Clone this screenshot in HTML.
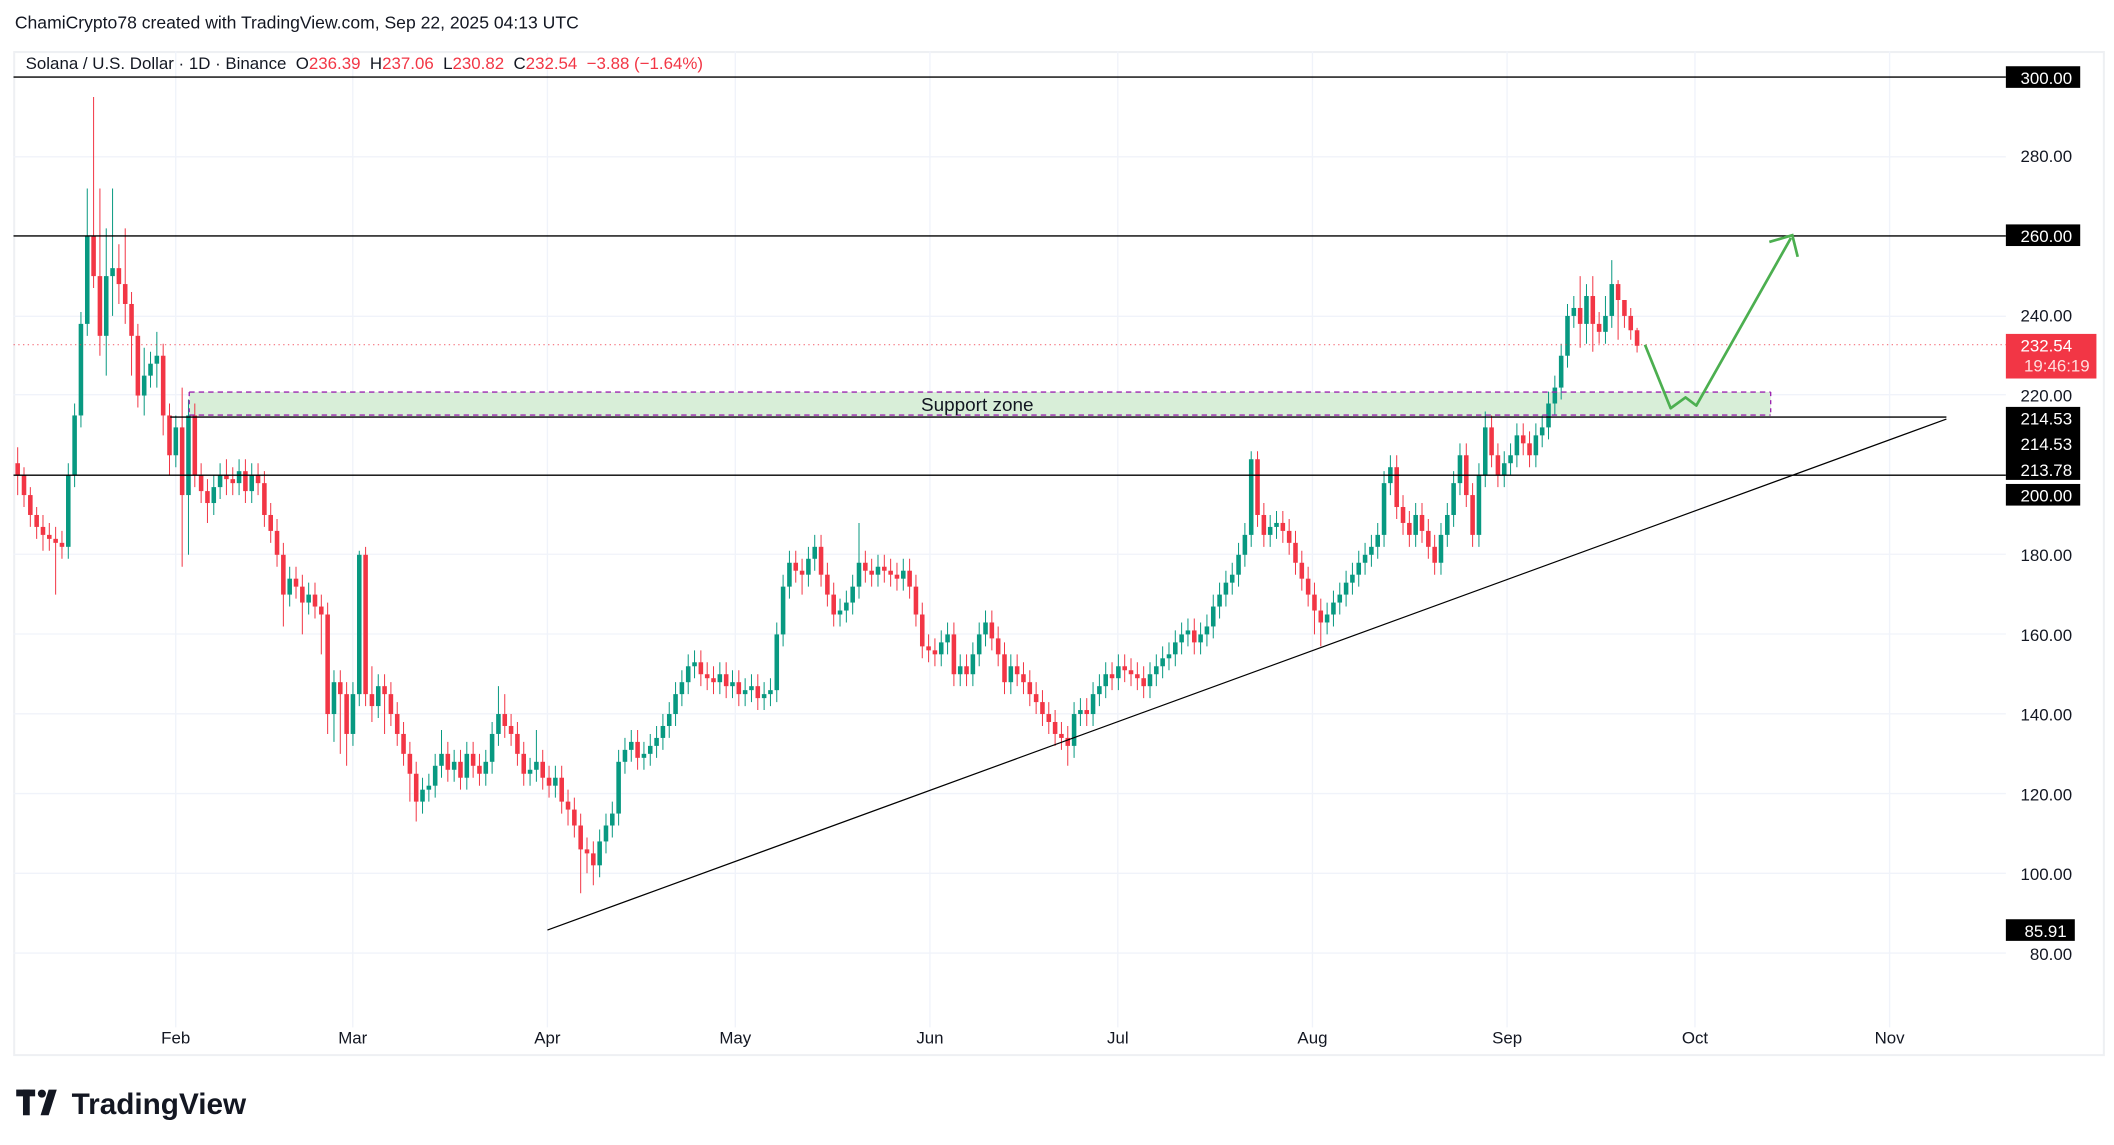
<!DOCTYPE html>
<html><head><meta charset="utf-8"><style>
html,body{margin:0;padding:0;background:#fff;width:2114px;height:1145px;overflow:hidden}
svg{display:block}
text{font-family:"Liberation Sans",sans-serif;white-space:pre}
</style></head><body>
<svg width="2114" height="1145" viewBox="0 0 1564 847" preserveAspectRatio="none" xmlns="http://www.w3.org/2000/svg">
<rect x="0" y="0" width="1564" height="847" fill="#fff"/>
<text x="11" y="21" font-size="13" fill="#131722">ChamiCrypto78 created with TradingView.com, Sep 22, 2025 04:13 UTC</text>
<rect x="10.5" y="38.5" width="1546" height="742" fill="none" stroke="#eef0f3" stroke-width="1.5"/>
<g stroke="#f0f3fa" stroke-width="1">
<line x1="130" y1="38" x2="130" y2="760"/><line x1="261" y1="38" x2="261" y2="760"/><line x1="405" y1="38" x2="405" y2="760"/><line x1="544" y1="38" x2="544" y2="760"/><line x1="688" y1="38" x2="688" y2="760"/><line x1="827" y1="38" x2="827" y2="760"/><line x1="971" y1="38" x2="971" y2="760"/><line x1="1115" y1="38" x2="1115" y2="760"/><line x1="1254" y1="38" x2="1254" y2="760"/><line x1="1398" y1="38" x2="1398" y2="760"/>
<line x1="10" y1="116" x2="1484" y2="116"/><line x1="10" y1="234" x2="1484" y2="234"/><line x1="10" y1="292" x2="1484" y2="292"/><line x1="10" y1="410" x2="1484" y2="410"/><line x1="10" y1="469" x2="1484" y2="469"/><line x1="10" y1="528" x2="1484" y2="528"/><line x1="10" y1="587" x2="1484" y2="587"/><line x1="10" y1="646" x2="1484" y2="646"/><line x1="10" y1="705" x2="1484" y2="705"/>
</g>
<!-- support zone -->
<rect x="140" y="290" width="1170" height="18" fill="#d8eed8"/>
<g transform="matrix(4.68 0 0 -2.945 -15 940.5)">
<path fill="none" stroke="#089981" stroke-width="1" vector-effect="non-scaling-stroke" d="M14 179V203M15 197V218M16 212V241M17 235V272M20 225V262M21 240V272M26 215V232M27 222V231M28 222V236M31 202V215M33 180V219M37 190V200M38 194V203M41 195V204M43 193V203M49 167V177M52 165V173M56 133V151M59 132V148M60 142V181M63 139V150M70 115V124M71 118V125M72 119V130M73 124V136M75 123V131M77 121V133M80 122V131M81 125V138M82 132V147M87 122V129M88 123V136M91 119V127M98 99V111M99 105V115M100 109V118M101 112V131M102 125V134M103 128V136M105 126V133M106 127V135M107 129V137M108 131V140M109 134V143M110 137V148M111 142V151M112 145V155M113 149V156M117 145V153M119 144V151M121 142V149M122 143V150M124 141V148M125 142V149M126 143V163M127 157V175M128 169V181M131 172V182M132 176V185M136 162V169M137 163V171M138 165V175M139 169V188M142 172V180M146 171V179M152 152V161M153 155V163M155 147V155M157 147V158M158 152V163M159 157V166M163 145V155M173 129V143M174 137V144M176 137V148M177 142V150M178 144V153M180 146V155M185 144V153M186 147V155M187 149V157M188 151V158M189 152V161M190 155V163M191 157V164M193 155V163M194 157V165M195 159V170M196 164V173M197 167V176M198 170V178M199 172V183M200 177V188M201 182V206M204 182V190M205 184V191M213 160V168M214 162V171M215 165V173M216 167V176M217 170V178M218 172V181M219 175V183M220 177V185M221 179V188M222 182V201M223 195V205M227 182V193M231 175V188M232 182V193M233 187V201M234 195V208M237 182V203M238 197V216M241 197V206M242 200V208M243 202V213M246 202V213M247 207V215M248 209V221M249 215V225M250 219V233M251 227V243M252 237V245M254 233V248M257 233V245M258 237V254"/>
<path fill="none" stroke="#f23645" stroke-width="1" vector-effect="non-scaling-stroke" d="M6 195V207M7 192V202M8 187V197M9 184V192M10 181V190M11 181V188M12 170V187M13 179V186M18 247V295M19 230V272M22 243V258M23 238V262M24 225V246M25 217V238M29 210V233M30 200V218M32 177V222M34 197V218M35 193V203M36 188V199M39 195V204M40 195V202M42 193V204M44 195V203M45 187V201M46 183V193M47 177V189M48 162V183M50 169V177M51 160V175M53 164V173M54 155V170M55 135V168M57 130V151M58 127V148M61 142V182M62 138V152M64 135V150M65 137V148M66 132V143M67 127V138M68 118V133M69 113V128M74 123V133M76 121V131M78 124V133M79 122V130M83 134V145M84 132V140M85 127V138M86 122V133M89 121V131M90 119V127M92 115V127M93 112V121M94 109V119M95 95V115M96 100V109M97 97V108M104 126V136M114 147V156M115 146V153M116 145V152M118 144V153M120 142V151M123 141V150M129 173V181M130 170V179M133 172V185M134 167V178M135 162V173M140 173V181M141 172V179M143 173V180M144 172V179M145 171V178M147 169V179M148 162V175M149 154V168M150 153V160M151 152V159M154 147V163M156 147V155M160 156V166M161 152V162M162 145V158M164 147V155M165 145V153M166 142V151M167 140V148M168 137V146M169 135V143M170 132V141M171 131V138M172 127V137M175 137V144M179 146V153M181 148V155M182 147V154M183 146V153M184 144V152M192 155V164M202 187V206M203 182V193M206 183V191M207 180V189M208 175V186M209 171V181M210 167V177M211 160V173M212 157V169M224 189V205M225 185V195M226 182V191M228 183V193M229 179V189M230 175V185M235 192V208M236 182V198M239 202V215M240 197V208M244 205V213M245 202V211M253 232V250M255 231V250M256 233V241M259 234V249M260 237V244M261 234V242M262 230.8V237"/>
<g fill="#089981">
<rect x="13.64" y="182" width=".72" height="18"/><rect x="14.64" y="200" width=".72" height="15"/><rect x="15.64" y="215" width=".72" height="23"/><rect x="16.64" y="238" width=".72" height="22"/><rect x="19.64" y="235" width=".72" height="15"/><rect x="20.64" y="250" width=".72" height="2"/><rect x="25.64" y="220" width=".72" height="5"/><rect x="26.64" y="225" width=".72" height="3"/><rect x="27.64" y="228" width=".72" height="2"/><rect x="30.64" y="205" width=".72" height="7"/><rect x="32.64" y="195" width=".72" height="20"/><rect x="36.64" y="193" width=".72" height="4"/><rect x="37.64" y="197" width=".72" height="3"/><rect x="40.64" y="198" width=".72" height="3"/><rect x="42.64" y="196" width=".72" height="4"/><rect x="48.64" y="170" width=".72" height="4"/><rect x="51.64" y="168" width=".72" height="2"/><rect x="55.64" y="140" width=".72" height="8"/><rect x="58.64" y="135" width=".72" height="10"/><rect x="59.64" y="145" width=".72" height="35"/><rect x="62.64" y="142" width=".72" height="5"/><rect x="69.64" y="118" width=".72" height="3"/><rect x="70.64" y="121" width=".72" height="1"/><rect x="71.64" y="122" width=".72" height="5"/><rect x="72.64" y="127" width=".72" height="3"/><rect x="74.64" y="126" width=".72" height="2"/><rect x="76.64" y="124" width=".72" height="6"/><rect x="79.64" y="125" width=".72" height="3"/><rect x="80.64" y="128" width=".72" height="7"/><rect x="81.64" y="135" width=".72" height="5"/><rect x="86.64" y="125" width=".72" height="1"/><rect x="87.64" y="126" width=".72" height="2"/><rect x="90.64" y="122" width=".72" height="2"/><rect x="97.64" y="102" width=".72" height="6"/><rect x="98.64" y="108" width=".72" height="4"/><rect x="99.64" y="112" width=".72" height="3"/><rect x="100.64" y="115" width=".72" height="13"/><rect x="101.64" y="128" width=".72" height="3"/><rect x="102.64" y="131" width=".72" height="2"/><rect x="104.64" y="129" width=".72" height="1"/><rect x="105.64" y="130" width=".72" height="2"/><rect x="106.64" y="132" width=".72" height="2"/><rect x="107.64" y="134" width=".72" height="3"/><rect x="108.64" y="137" width=".72" height="3"/><rect x="109.64" y="140" width=".72" height="5"/><rect x="110.64" y="145" width=".72" height="3"/><rect x="111.64" y="148" width=".72" height="4"/><rect x="112.64" y="152" width=".72" height="1"/><rect x="116.64" y="148" width=".72" height="2"/><rect x="118.64" y="147" width=".72" height="1"/><rect x="120.64" y="145" width=".72" height="1"/><rect x="121.64" y="146" width=".72" height="1"/><rect x="123.64" y="144" width=".72" height="1"/><rect x="124.64" y="145" width=".72" height="1"/><rect x="125.64" y="146" width=".72" height="14"/><rect x="126.64" y="160" width=".72" height="12"/><rect x="127.64" y="172" width=".72" height="6"/><rect x="130.64" y="175" width=".72" height="4"/><rect x="131.64" y="179" width=".72" height="3"/><rect x="135.64" y="165" width=".72" height="1"/><rect x="136.64" y="166" width=".72" height="2"/><rect x="137.64" y="168" width=".72" height="4"/><rect x="138.64" y="172" width=".72" height="6"/><rect x="141.64" y="175" width=".72" height="2"/><rect x="145.64" y="174" width=".72" height="2"/><rect x="151.64" y="155" width=".72" height="3"/><rect x="152.64" y="158" width=".72" height="2"/><rect x="154.64" y="150" width=".72" height="2"/><rect x="156.64" y="150" width=".72" height="5"/><rect x="157.64" y="155" width=".72" height="5"/><rect x="158.64" y="160" width=".72" height="3"/><rect x="162.64" y="148" width=".72" height="4"/><rect x="172.64" y="132" width=".72" height="8"/><rect x="173.64" y="140" width=".72" height="1"/><rect x="175.64" y="140" width=".72" height="5"/><rect x="176.64" y="145" width=".72" height="2"/><rect x="177.64" y="147" width=".72" height="3"/><rect x="179.64" y="149" width=".72" height="3"/><rect x="184.64" y="147" width=".72" height="3"/><rect x="185.64" y="150" width=".72" height="2"/><rect x="186.64" y="152" width=".72" height="2"/><rect x="187.64" y="154" width=".72" height="1"/><rect x="188.64" y="155" width=".72" height="3"/><rect x="189.64" y="158" width=".72" height="2"/><rect x="190.64" y="160" width=".72" height="1"/><rect x="192.64" y="158" width=".72" height="2"/><rect x="193.64" y="160" width=".72" height="2"/><rect x="194.64" y="162" width=".72" height="5"/><rect x="195.64" y="167" width=".72" height="3"/><rect x="196.64" y="170" width=".72" height="3"/><rect x="197.64" y="173" width=".72" height="2"/><rect x="198.64" y="175" width=".72" height="5"/><rect x="199.64" y="180" width=".72" height="5"/><rect x="200.64" y="185" width=".72" height="19"/><rect x="203.64" y="185" width=".72" height="2"/><rect x="204.64" y="187" width=".72" height="1"/><rect x="212.64" y="163" width=".72" height="2"/><rect x="213.64" y="165" width=".72" height="3"/><rect x="214.64" y="168" width=".72" height="2"/><rect x="215.64" y="170" width=".72" height="3"/><rect x="216.64" y="173" width=".72" height="2"/><rect x="217.64" y="175" width=".72" height="3"/><rect x="218.64" y="178" width=".72" height="2"/><rect x="219.64" y="180" width=".72" height="2"/><rect x="220.64" y="182" width=".72" height="3"/><rect x="221.64" y="185" width=".72" height="13"/><rect x="222.64" y="198" width=".72" height="4"/><rect x="226.64" y="185" width=".72" height="5"/><rect x="230.64" y="178" width=".72" height="7"/><rect x="231.64" y="185" width=".72" height="5"/><rect x="232.64" y="190" width=".72" height="8"/><rect x="233.64" y="198" width=".72" height="7"/><rect x="236.64" y="185" width=".72" height="15"/><rect x="237.64" y="200" width=".72" height="12"/><rect x="240.64" y="200" width=".72" height="3"/><rect x="241.64" y="203" width=".72" height="2"/><rect x="242.64" y="205" width=".72" height="5"/><rect x="245.64" y="205" width=".72" height="5"/><rect x="246.64" y="210" width=".72" height="2"/><rect x="247.64" y="212" width=".72" height="6"/><rect x="248.64" y="218" width=".72" height="4"/><rect x="249.64" y="222" width=".72" height="8"/><rect x="250.64" y="230" width=".72" height="10"/><rect x="251.64" y="240" width=".72" height="2"/><rect x="253.64" y="238" width=".72" height="7"/><rect x="256.64" y="236" width=".72" height="4"/><rect x="257.64" y="240" width=".72" height="8"/>
</g>
<g fill="#f23645">
<rect x="5.64" y="200" width=".72" height="3"/><rect x="6.64" y="195" width=".72" height="5"/><rect x="7.64" y="190" width=".72" height="5"/><rect x="8.64" y="187" width=".72" height="3"/><rect x="9.64" y="185" width=".72" height="2"/><rect x="10.64" y="184" width=".72" height="1"/><rect x="11.64" y="183" width=".72" height="1"/><rect x="12.64" y="182" width=".72" height="1"/><rect x="17.64" y="250" width=".72" height="10"/><rect x="18.64" y="235" width=".72" height="15"/><rect x="21.64" y="248" width=".72" height="4"/><rect x="22.64" y="243" width=".72" height="5"/><rect x="23.64" y="235" width=".72" height="8"/><rect x="24.64" y="220" width=".72" height="15"/><rect x="28.64" y="215" width=".72" height="15"/><rect x="29.64" y="205" width=".72" height="10"/><rect x="31.64" y="195" width=".72" height="17"/><rect x="33.64" y="200" width=".72" height="15"/><rect x="34.64" y="196" width=".72" height="4"/><rect x="35.64" y="193" width=".72" height="3"/><rect x="38.64" y="199" width=".72" height="1"/><rect x="39.64" y="198" width=".72" height="1"/><rect x="41.64" y="196" width=".72" height="5"/><rect x="43.64" y="198" width=".72" height="2"/><rect x="44.64" y="190" width=".72" height="8"/><rect x="45.64" y="186" width=".72" height="4"/><rect x="46.64" y="180" width=".72" height="6"/><rect x="47.64" y="170" width=".72" height="10"/><rect x="49.64" y="172" width=".72" height="2"/><rect x="50.64" y="168" width=".72" height="4"/><rect x="52.64" y="167" width=".72" height="3"/><rect x="53.64" y="165" width=".72" height="2"/><rect x="54.64" y="140" width=".72" height="25"/><rect x="56.64" y="145" width=".72" height="3"/><rect x="57.64" y="135" width=".72" height="10"/><rect x="60.64" y="145" width=".72" height="35"/><rect x="61.64" y="142" width=".72" height="3"/><rect x="63.64" y="145" width=".72" height="2"/><rect x="64.64" y="140" width=".72" height="5"/><rect x="65.64" y="135" width=".72" height="5"/><rect x="66.64" y="130" width=".72" height="5"/><rect x="67.64" y="125" width=".72" height="5"/><rect x="68.64" y="118" width=".72" height="7"/><rect x="73.64" y="126" width=".72" height="4"/><rect x="75.64" y="124" width=".72" height="4"/><rect x="77.64" y="127" width=".72" height="3"/><rect x="78.64" y="125" width=".72" height="2"/><rect x="82.64" y="137" width=".72" height="3"/><rect x="83.64" y="135" width=".72" height="2"/><rect x="84.64" y="130" width=".72" height="5"/><rect x="85.64" y="125" width=".72" height="5"/><rect x="88.64" y="124" width=".72" height="4"/><rect x="89.64" y="122" width=".72" height="2"/><rect x="91.64" y="118" width=".72" height="6"/><rect x="92.64" y="116" width=".72" height="2"/><rect x="93.64" y="112" width=".72" height="4"/><rect x="94.64" y="106" width=".72" height="6"/><rect x="95.64" y="105" width=".72" height="1"/><rect x="96.64" y="102" width=".72" height="3"/><rect x="103.64" y="129" width=".72" height="4"/><rect x="113.64" y="150" width=".72" height="3"/><rect x="114.64" y="149" width=".72" height="1"/><rect x="115.64" y="148" width=".72" height="1"/><rect x="117.64" y="147" width=".72" height="3"/><rect x="119.64" y="145" width=".72" height="3"/><rect x="122.64" y="144" width=".72" height="3"/><rect x="128.64" y="176" width=".72" height="2"/><rect x="129.64" y="175" width=".72" height="1"/><rect x="132.64" y="175" width=".72" height="7"/><rect x="133.64" y="170" width=".72" height="5"/><rect x="134.64" y="165" width=".72" height="5"/><rect x="139.64" y="176" width=".72" height="2"/><rect x="140.64" y="175" width=".72" height="1"/><rect x="142.64" y="176" width=".72" height="1"/><rect x="143.64" y="175" width=".72" height="1"/><rect x="144.64" y="174" width=".72" height="1"/><rect x="146.64" y="172" width=".72" height="4"/><rect x="147.64" y="165" width=".72" height="7"/><rect x="148.64" y="157" width=".72" height="8"/><rect x="149.64" y="156" width=".72" height="1"/><rect x="150.64" y="155" width=".72" height="1"/><rect x="153.64" y="150" width=".72" height="10"/><rect x="155.64" y="150" width=".72" height="2"/><rect x="159.64" y="159" width=".72" height="4"/><rect x="160.64" y="155" width=".72" height="4"/><rect x="161.64" y="148" width=".72" height="7"/><rect x="163.64" y="150" width=".72" height="2"/><rect x="164.64" y="148" width=".72" height="2"/><rect x="165.64" y="145" width=".72" height="3"/><rect x="166.64" y="143" width=".72" height="2"/><rect x="167.64" y="140" width=".72" height="3"/><rect x="168.64" y="138" width=".72" height="2"/><rect x="169.64" y="135" width=".72" height="3"/><rect x="170.64" y="134" width=".72" height="1"/><rect x="171.64" y="132" width=".72" height="2"/><rect x="174.64" y="140" width=".72" height="1"/><rect x="178.64" y="149" width=".72" height="1"/><rect x="180.64" y="151" width=".72" height="1"/><rect x="181.64" y="150" width=".72" height="1"/><rect x="182.64" y="149" width=".72" height="1"/><rect x="183.64" y="147" width=".72" height="2"/><rect x="191.64" y="158" width=".72" height="3"/><rect x="201.64" y="190" width=".72" height="14"/><rect x="202.64" y="185" width=".72" height="5"/><rect x="205.64" y="186" width=".72" height="2"/><rect x="206.64" y="183" width=".72" height="3"/><rect x="207.64" y="178" width=".72" height="5"/><rect x="208.64" y="174" width=".72" height="4"/><rect x="209.64" y="170" width=".72" height="4"/><rect x="210.64" y="166" width=".72" height="4"/><rect x="211.64" y="163" width=".72" height="3"/><rect x="223.64" y="192" width=".72" height="10"/><rect x="224.64" y="188" width=".72" height="4"/><rect x="225.64" y="185" width=".72" height="3"/><rect x="227.64" y="186" width=".72" height="4"/><rect x="228.64" y="182" width=".72" height="4"/><rect x="229.64" y="178" width=".72" height="4"/><rect x="234.64" y="195" width=".72" height="10"/><rect x="235.64" y="185" width=".72" height="10"/><rect x="238.64" y="205" width=".72" height="7"/><rect x="239.64" y="200" width=".72" height="5"/><rect x="243.64" y="208" width=".72" height="2"/><rect x="244.64" y="205" width=".72" height="3"/><rect x="252.64" y="238" width=".72" height="4"/><rect x="254.64" y="238" width=".72" height="7"/><rect x="255.64" y="236" width=".72" height="2"/><rect x="258.64" y="244" width=".72" height="4"/><rect x="259.64" y="240" width=".72" height="4"/><rect x="260.64" y="236.4" width=".72" height="3.6"/><rect x="261.64" y="232.5" width=".72" height="3.9"/>
</g>
</g>
<line x1="140" y1="290" x2="1310" y2="290" stroke="#9c27b0" stroke-width="1" stroke-dasharray="4,3"/>
<line x1="140" y1="307" x2="1310" y2="307" stroke="#9c27b0" stroke-width="1" stroke-dasharray="4,3"/>
<line x1="140" y1="290" x2="140" y2="308" stroke="#9c27b0" stroke-width="1" stroke-dasharray="3,3"/>
<line x1="1310" y1="290" x2="1310" y2="308" stroke="#9c27b0" stroke-width="1" stroke-dasharray="3,3"/>
<text x="723" y="304" font-size="14" fill="#131722" text-anchor="middle">Support zone</text>
<line x1="10" y1="57" x2="1484" y2="57" stroke="#000" stroke-width="1"/>
<line x1="10" y1="174.5" x2="1484" y2="174.5" stroke="#000" stroke-width="1"/>
<line x1="10" y1="351.5" x2="1484" y2="351.5" stroke="#000" stroke-width="1"/>
<line x1="126" y1="308.5" x2="1440" y2="308.5" stroke="#000" stroke-width="1"/>
<line x1="10" y1="255" x2="1484" y2="255" stroke="#f23645" stroke-width="0.8" stroke-dasharray="1,2.5" opacity="0.7"/>
<line x1="405" y1="688" x2="1440" y2="310" stroke="#000" stroke-width="0.9"/>
<polyline points="1217,255 1236,302 1247,294 1255,300 1325,176" fill="none" stroke="#4caf50" stroke-width="2" stroke-linejoin="round"/>
<polyline points="1309,179 1326,174 1330,190" fill="none" stroke="#4caf50" stroke-width="2"/>
<text x="19" y="51" font-size="12.5" fill="#131722">Solana / U.S. Dollar · 1D · Binance  O<tspan fill="#f23645">236.39</tspan>  H<tspan fill="#f23645">237.06</tspan>  L<tspan fill="#f23645">230.82</tspan>  C<tspan fill="#f23645">232.54  −3.88 (−1.64%)</tspan></text>
<g font-size="12.5" text-anchor="end" fill="#131722">
<text x="1533" y="120">280.00</text><text x="1533" y="238">240.00</text><text x="1533" y="297">220.00</text><text x="1533" y="415">180.00</text><text x="1533" y="474">160.00</text><text x="1533" y="533">140.00</text><text x="1533" y="592">120.00</text><text x="1533" y="651">100.00</text><text x="1533" y="710">80.00</text>
</g>
<g fill="#000">
<rect x="1484" y="49" width="55" height="16"/><rect x="1484" y="166" width="55" height="16"/><rect x="1484" y="301" width="55" height="54"/><rect x="1484" y="358" width="55" height="16"/><rect x="1484" y="680" width="51" height="16"/>
</g>
<rect x="1484" y="247" width="67" height="33" fill="#f23645"/>
<g font-size="12.5" text-anchor="end" fill="#fff">
<text x="1533" y="62">300.00</text><text x="1533" y="179">260.00</text><text x="1533" y="314">214.53</text><text x="1533" y="333">214.53</text><text x="1533" y="352">213.78</text><text x="1533" y="371">200.00</text><text x="1529" y="693">85.91</text>
<text x="1533" y="260">232.54</text><text x="1546" y="275" fill="#fdd">19:46:19</text>
</g>
<g font-size="12.5" fill="#131722" text-anchor="middle">
<text x="130" y="772">Feb</text><text x="261" y="772">Mar</text><text x="405" y="772">Apr</text><text x="544" y="772">May</text><text x="688" y="772">Jun</text><text x="827" y="772">Jul</text><text x="971" y="772">Aug</text><text x="1115" y="772">Sep</text><text x="1254" y="772">Oct</text><text x="1398" y="772">Nov</text>
</g>
<g fill="#131722">
<rect x="12" y="806" width="14" height="5"/><rect x="17" y="806" width="5" height="19"/>
<circle cx="31" cy="809" r="3"/>
<polygon points="36,806 42,806 36,825 30,825"/>
<text x="53" y="824" font-size="22" font-weight="bold">TradingView</text>
</g>
</svg>
</body></html>
